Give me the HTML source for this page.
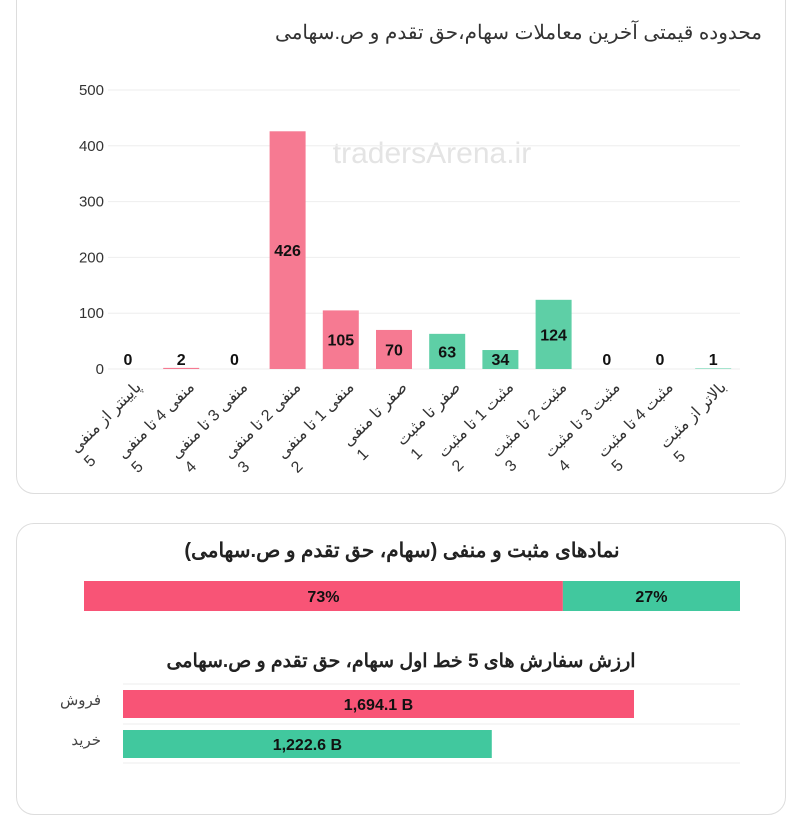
<!DOCTYPE html>
<html><head><meta charset="utf-8"><style>
body{margin:0;width:800px;height:784px;background:#fff;overflow:hidden;font-family:"Liberation Sans","Noto Sans CJK SC",sans-serif;}
.card{position:absolute;border:1px solid #ddd;border-radius:18px;background:#fff;}
</style></head><body>
<div class="card" style="left:16px;top:-20px;width:768px;height:512px;"></div>
<div class="card" style="left:16px;top:523px;width:768px;height:290px;"></div>
<svg width="800" height="784" style="position:absolute;left:0;top:0">
<text x="762" y="39" text-anchor="start" font-size="20" fill="#333" direction="rtl">محدوده قیمتی آخرین معاملات سهام،حق تقدم و ص.سهامی</text>
<text x="432" y="163" text-anchor="middle" font-size="30" fill="#e4e4e4">tradersArena.ir</text>
<g id="plot"></g>
<text x="402" y="557" text-anchor="middle" font-size="20" font-weight="bold" fill="#222" direction="rtl">نمادهای مثبت و منفی (سهام، حق تقدم و ص.سهامی)</text>
<g id="pct"></g>
<text x="401" y="667" text-anchor="middle" font-size="19" font-weight="bold" fill="#222" direction="rtl">ارزش سفارش های 5 خط اول سهام، حق تقدم و ص.سهامی</text>
<g id="orders"></g>
</svg>
<script>
const categories=["پایینتر از منفی 5","منفی 4 تا منفی 5","منفی 3 تا منفی 4","منفی 2 تا منفی 3","منفی 1 تا منفی 2","صفر تا منفی 1","صفر تا مثبت 1","مثبت 1 تا مثبت 2","مثبت 2 تا مثبت 3","مثبت 3 تا مثبت 4","مثبت 4 تا مثبت 5","بالاتر از مثبت 5"];
const values=[0,2,0,426,105,70,63,34,124,0,0,1];
const yTicks=[0,100,200,300,400,500];
const pctLabels=["73%","27%"];
const pctValues=[73,27];
const orderLabels=["فروش","خرید"];
const orderValues=[1694.1,1222.6];
const orderText=["1,694.1 B","1,222.6 B"];

const NS="http://www.w3.org/2000/svg";
function mk(p,t,a,txt){const e=document.createElementNS(NS,t);for(const k in a)e.setAttribute(k,a[k]);if(txt!==undefined)e.textContent=txt;p.appendChild(e);return e;}
const plot=document.getElementById('plot');
const y=v=>369-v*279/500;
const x0=101.4,bw=53.2;
const xc=i=>x0+bw*(i+0.5);
yTicks.forEach(t=>{
 const l=mk(plot,'line',{x1:108,x2:740,y1:y(t),y2:y(t),stroke:'#eee'});
 
 
 const tx=mk(plot,'text',{x:104,y:y(t)+5,'text-anchor':'end','font-size':15,fill:'#333'},t);
 
 
});
values.forEach((v,i)=>{
 const col=i<6?'#f67a92':'#5ecfa6';
 const r=mk(plot,'rect',{x:xc(i)-18,y:y(v),width:36,height:369-y(v),fill:col});
 
 
 const ly=Math.min((y(v)+369)/2,359)+6;
 const t=mk(plot,'text',{x:xc(i),y:ly,'text-anchor':'middle','font-size':16,'font-weight':'bold',fill:'#111'},v);
 
 
 const words=categories[i].split(' ');
 const last=words.pop();
 const g=mk(plot,'g',{transform:`translate(${xc(i)+14},388) rotate(-45)`});
 
 
 const l1=mk(g,'text',{x:0,y:0,'text-anchor':'start','font-size':16,fill:'#333',direction:'rtl'},words.join(' '));
 let len=0;try{len=l1.getComputedTextLength();}catch(e){len=80;}
 mk(g,'text',{x:-len,y:20,'text-anchor':'start','font-size':16,fill:'#333'},last);
});
const pct=document.getElementById('pct');
let px=84;const pw=656;
pctValues.forEach((v,i)=>{
 const w=v/100*pw;
 const r=mk(pct,'rect',{x:px,y:581,width:w,height:30,fill:i==0?'#f85476':'#41c89e'});
 
 
 const t=mk(pct,'text',{x:px+w/2,y:602,'text-anchor':'middle','font-size':16,'font-weight':'bold',fill:'#111'},pctLabels[i]);
 
 
 px+=w;
});
const od=document.getElementById('orders');
[684,724,763].forEach(g=>{const l=mk(od,'line',{x1:123,x2:740,y1:g,y2:g,stroke:'#eee'});
 
 });
const ox=v=>v*511/1694.1;
orderValues.forEach((v,i)=>{
 const yy=690+i*40;
 const r=mk(od,'rect',{x:123,y:yy,width:ox(v),height:28,fill:i==0?'#f85476':'#41c89e'});
 
 
 const t=mk(od,'text',{x:123+ox(v)/2,y:yy+20,'text-anchor':'middle','font-size':16,'font-weight':'bold',fill:'#111'},orderText[i]);
 
 
 const l=mk(od,'text',{x:101,y:yy+15,'text-anchor':'start','font-size':15,fill:'#444',direction:'rtl'},orderLabels[i]);
 
 
});
</script>
</body></html>
